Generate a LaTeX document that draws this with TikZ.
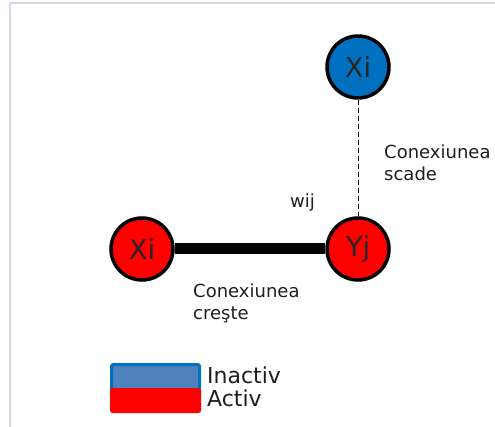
\documentclass[tikz,border=0pt]{standalone}
\usepackage{fontspec}
\setmainfont{DejaVu Sans}
\definecolor{actred}{HTML}{FF0000}
\definecolor{inblue}{HTML}{0070C0}
\definecolor{infill}{HTML}{4F81BD}
\definecolor{frame}{HTML}{D5D9E3}
\definecolor{txt}{HTML}{1E1E1E}
\tikzset{
  neuron/.style={circle, draw=black, line width=3.5pt, minimum size=62pt, inner sep=0pt,
    font=\fontsize{27.5}{30}\selectfont, text=black!85},
  active/.style={neuron, fill=actred},
  inactive/.style={neuron, fill=inblue},
  % multi-line labels: the base anchor sits on the last line
  lbl/.style={anchor=base west, inner sep=0pt, align=left, text=txt,
    font=\fontsize{18}{22}\selectfont},
  legtxt/.style={anchor=base west, inner sep=0pt, align=left, text=txt,
    font=\fontsize{22}{23}\selectfont},
}
\begin{document}
\begin{tikzpicture}[x=1pt, y=-1pt]
  \useasboundingbox (0,0) rectangle (495,427);
  % light frame on top and left
  \draw[frame, line width=1.2pt] (10,427) -- (10,3) -- (495,3);

  % neurons
  \node[inactive] (xtop) at (358,67) {Xi};
  \node[active] (xi) at (142,249) {Xi};
  \node[active] (yj) at (358,249) {Yj};

  % connections
  \draw[line width=11pt] (xi) -- (yj);
  \draw[dash pattern=on 5pt off 3pt, line width=1pt] (xtop) -- (yj);

  % labels
  \node[lbl] (lscade) at (384,181) {Conexiunea\\scade};
  \node[lbl] (lwij) at (290,208) {wij};
  \node[lbl] (lcreste) at (193,320) {Conexiunea\\creşte};

  % legend
  \draw[draw=inblue, fill=infill, line width=3pt, rounded corners=2pt]
    (111.5,364.5) rectangle (199.5,390) node[pos=0] (kin) {};
  \fill[actred, rounded corners=2.5pt] (110,388) rectangle (201,413) node[pos=0] (kact) {};
  \node[legtxt] (tin) at (207,383) {Inactiv};
  \node[legtxt] (tact) at (207,406) {Activ};
\end{tikzpicture}
\end{document}
